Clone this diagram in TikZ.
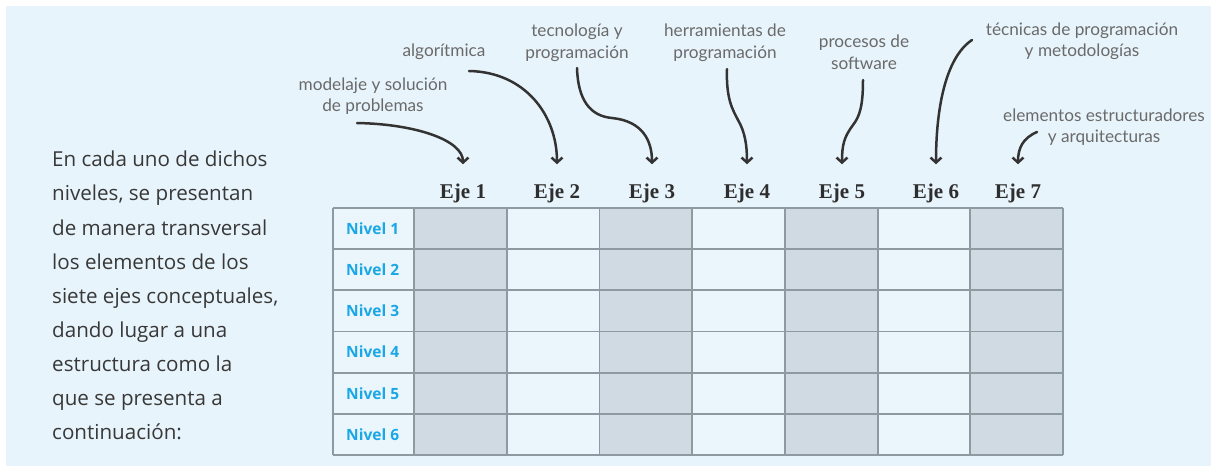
\documentclass[tikz,border=0pt]{standalone}
\usepackage{fontspec}
\setmainfont{Liberation Serif}
\newfontfamily\bodyfont{Open Sans}
\newfontfamily\annfont{Lato}
\usetikzlibrary{arrows.meta}

\definecolor{panel}{HTML}{E8F4FB}
\definecolor{cellgray}{HTML}{CFDAE2}
\definecolor{cellpale}{HTML}{EBF6FC}
\definecolor{gridline}{HTML}{8E9AA1}
\definecolor{nivelblue}{HTML}{1AA7E6}
\definecolor{anntext}{HTML}{6A6A6A}
\definecolor{arrowgray}{HTML}{333333}
\definecolor{bodyink}{HTML}{383838}
\definecolor{ejeink}{HTML}{2E2E2E}

\tikzset{
  intro/.style={inner sep=0pt, align=left, text=bodyink,
    font=\bodyfont\fontsize{20.6}{34.1}\selectfont},
  eje/.style={inner sep=0pt, anchor=base, text=ejeink,
    font=\bfseries\fontsize{21}{21}\selectfont},
  nivel/.style={inner sep=0pt, anchor=west, text=nivelblue,
    font=\bodyfont\bfseries\fontsize{15.5}{15.5}\selectfont},
  ann/.style={inner sep=0pt, align=center, text=anntext,
    font=\annfont\fontsize{17.2}{21.5}\selectfont},
  annarrow/.style={draw=arrowgray, line width=2.5pt, line cap=round,
    -{Straight Barb[length=5pt,width=11pt]}, shorten >=19pt},
  gridrule/.style={draw=gridline, line width=1.8pt},
}

\begin{document}
\begin{tikzpicture}[x=1pt,y=-1pt]
\useasboundingbox (0,0) rectangle (1211,467);
\fill[panel] (6,6) rectangle (1211,466);

% introductory paragraph
\node[intro, anchor=north west] (txt) at (52,151)
  {En cada uno de dichos\\niveles, se presentan\\de manera transversal\\los elementos de los\\siete ejes conceptuales,\\dando lugar a una\\estructura como la\\que se presenta a\\continuación:};

% table cells
\fill[cellpale] (333,208) rectangle (1063,455);
\foreach \xa/\xb in {414/506.7, 599.4/692.1, 784.9/877.6, 970.3/1063}
  \fill[cellgray] (\xa,208) rectangle (\xb,455);

% grid
\foreach \y in {208,249.2,290.3,331.5,372.7,413.8,455}
  \draw[gridrule] (333,\y) -- (1063,\y);
\foreach \x in {333,414,506.7,599.4,692.1,784.9,877.6,970.3,1063}
  \draw[gridrule] (\x,208) -- (\x,455);

% row labels
\foreach \i in {1,...,6}
  \node[nivel] (n\i) at (346,{228.6+(\i-1)*41.17}) {Nivel \i};

% column headers
\node[eje] (h1) at (463,198) {Eje 1};
\node[eje] (h2) at (557,198) {Eje 2};
\node[eje] (h3) at (652,198) {Eje 3};
\node[eje] (h4) at (747,198) {Eje 4};
\node[eje] (h5) at (842,198) {Eje 5};
\node[eje] (h6) at (936,198) {Eje 6};
\node[eje] (h7) at (1018,198) {Eje 7};

% axis names
\node[ann] (a1) at (373,96) {modelaje y solución\\de problemas};
\node[ann] (a2) at (444,52) {algorítmica};
\node[ann] (a3) at (577,42.5) {tecnología y\\programación};
\node[ann] (a4) at (725,42.5) {herramientas de\\programación};
\node[ann] (a5) at (864,52) {procesos de\\software};
\node[ann] (a6) at (1082,41) {técnicas de programación\\y metodologías};
\node[ann] (a7) at (1104,127) {elementos estructuradores\\y arquitecturas};

% arrow starts beside each name
\coordinate (s1) at (357,123);
\coordinate (s2) at (469,71);
\coordinate (s3) at (577,68);
\coordinate (s4) at (727,69);
\coordinate (s5) at (863,80);
\coordinate (s6) at (972,40);
\coordinate (s7) at (1037,132);

% curved arrows from names to headers
\draw[annarrow] (s1) .. controls (415,124) and (463,140) .. (h1.north);
\draw[annarrow] (s2) .. controls (525,72) and (557,115) .. (h2.north);
\draw[annarrow] (s3) .. controls (578,100) and (590,116) .. (612,118)
                     .. controls (642,121) and (652,140) .. (h3.north);
\draw[annarrow] (s4) .. controls (726,100) and (733,110) .. (738,120)
                     .. controls (745,132) and (747,145) .. (h4.north);
\draw[annarrow] (s5) .. controls (863,105) and (860,116) .. (853,125)
                     .. controls (844,137) and (842,145) .. (h5.north);
\draw[annarrow] (s6) .. controls (945,58) and (936,110) .. (h6.north);
\draw[annarrow] (s7) .. controls (1023,138) and (1018,148) .. (h7.north);
\end{tikzpicture}
\end{document}
